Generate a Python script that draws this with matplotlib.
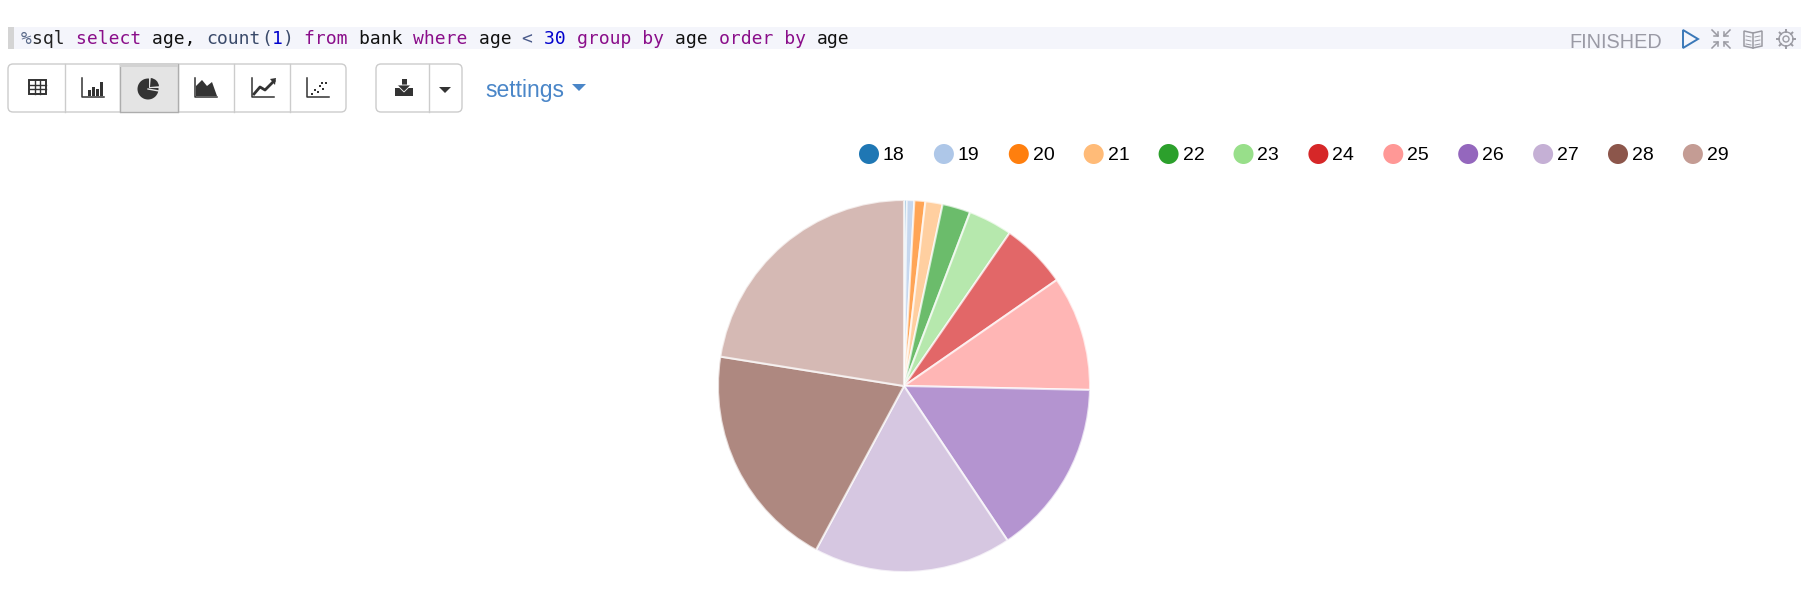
import numpy as np
import matplotlib
matplotlib.use('Agg')
import matplotlib.pyplot as plt
from matplotlib.patches import Circle, Polygon, Rectangle, FancyBboxPatch, Wedge

ages = ['18', '19', '20', '21', '22', '23', '24', '25', '26', '27', '28', '29']
counts = [12, 35, 50, 79, 129, 202, 302, 527, 805, 909, 1038, 1185]
colors = ['#1f77b4', '#aec7e8', '#ff7f0e', '#ffbb78', '#2ca02c', '#98df8a',
          '#d62728', '#ff9896', '#9467bd', '#c5b0d5', '#8c564b', '#c49c94']

code_tokens = [('%', '#5a6a8a'), ('sql ', '#222222'), ('select ', '#8a0e8a'), ('age, ', '#111111'),
               ('count', '#3a4a6a'), ('(', '#3a4a6a'), ('1', '#0000cc'), (') ', '#3a4a6a'),
               ('from ', '#8a0e8a'), ('bank ', '#111111'), ('where ', '#8a0e8a'), ('age ', '#111111'),
               ('< ', '#4a5a8a'), ('30 ', '#0000cc'), ('group by ', '#8a0e8a'), ('age ', '#111111'),
               ('order by ', '#8a0e8a'), ('age', '#111111')]

W, H = 1814, 603
fig = plt.figure(figsize=(W/100, H/100), dpi=100)

# page layer, in pixels from the top left
ui = fig.add_axes([0, 0, 1, 1])
ui.set_xlim(0, W)
ui.set_ylim(H, 0)
ui.axis('off')

# paragraph title bar
ui.add_patch(Rectangle((14, 26.5), 1787, 22, fc='#f4f5fb', ec='none'))
ui.add_patch(Rectangle((8, 26.5), 6, 22, fc='#d4d4d4', ec='none'))
char_w = 10.9
pos = 0
for tok, col in code_tokens:
    ui.text(21 + pos*char_w, 39, tok, family='DejaVu Sans Mono', fontsize=13, color=col, va='center', ha='left')
    pos += len(tok)

ui.text(1569, 42, 'FINISHED', family='Liberation Sans', fontsize=14.3, color='#9a9aa5', va='center', ha='left')
ui.add_patch(Polygon([(1683, 30), (1698, 39), (1683, 48)], closed=True, fc='none', ec='#3a78b8', lw=1.4))

# compress arrows
gray = '#9a9aa2'
for sx, sy in [(-1, -1), (1, -1), (-1, 1), (1, 1)]:
    cx, cy = 1721, 39
    ui.plot([cx + sx*3, cx + sx*9], [cy + sy*3, cy + sy*9], color=gray, lw=1.1)
    ui.plot([cx + sx*3, cx + sx*3, cx + sx*7], [cy + sy*7, cy + sy*3, cy + sy*3], color=gray, lw=1.1)

# book
ui.add_patch(Polygon([(1744, 31), (1753, 33), (1762, 31), (1762, 46), (1753, 48), (1744, 46)],
                     closed=True, fc='none', ec=gray, lw=1.1))
ui.plot([1753, 1753], [33, 48], color=gray, lw=1.1)
for dy in [0, 4, 8]:
    ui.plot([1746, 1751], [36 + dy, 37 + dy], color=gray, lw=0.7)
    ui.plot([1755, 1760], [37 + dy, 36 + dy], color=gray, lw=0.7)

# gear
ui.add_patch(Circle((1786, 39), 3, fc='none', ec=gray, lw=1))
ui.add_patch(Circle((1786, 39), 7, fc='none', ec=gray, lw=1))
for a in np.arange(0, 360, 45):
    t = np.deg2rad(a)
    ui.plot([1786 + 7*np.cos(t), 1786 + 9*np.cos(t)], [39 + 7*np.sin(t), 39 + 9*np.sin(t)],
            color=gray, lw=1.4)

# button groups
def button_group(x0, x1, dividers):
    ui.add_patch(FancyBboxPatch((x0, 64), x1 - x0, 48, boxstyle='round,pad=0,rounding_size=5',
                                fc='white', ec='#cccccc', lw=1, zorder=2))
    for d in dividers:
        ui.plot([d, d], [64, 112], color='#cccccc', lw=1, zorder=3)

button_group(8, 346, [65, 120, 178, 234, 290])
ui.add_patch(Rectangle((120, 64), 58, 48, fc='#e4e4e4', ec='#adadad', lw=1, zorder=3))
ui.add_patch(Rectangle((120, 64), 58, 3, fc='#d2d2d2', ec='none', zorder=3))
button_group(376, 462, [429])

ink = '#333333'
y0 = 88

def axes_l(cx):
    ui.plot([cx - 11, cx - 11, cx + 11], [y0 - 10, y0 + 9, y0 + 9], color=ink, lw=1.1, zorder=4)

# table
ui.add_patch(Rectangle((29, 80), 17, 14, fc='white', ec=ink, lw=1.4, zorder=4))
for x in [34.5, 40]:
    ui.plot([x, x], [80, 94], color=ink, lw=1, zorder=5)
for y in [84.5, 89]:
    ui.plot([29, 46], [y, y], color=ink, lw=1, zorder=5)

# bar icon
axes_l(93)
for x, h in zip([88, 92, 96, 100], [6, 9, 7, 14]):
    ui.add_patch(Rectangle((x, y0 + 8 - h), 3, h, fc=ink, ec='none', zorder=4))

# pie icon
ui.add_patch(Wedge((148, 89), 10.5, 0, 360, fc=ink, ec='none', zorder=4))
ui.add_patch(Wedge((149, 88), 12, -90, 0, fc='#e4e4e4', ec='none', zorder=5))
ui.add_patch(Wedge((150, 87), 9, -85, -5, fc=ink, ec='none', zorder=6))
ui.plot([148, 159], [89, 91], color='#e4e4e4', lw=1, zorder=7)

# area icon
axes_l(206)
ui.add_patch(Polygon([(196, 96), (196, 86), (202, 80), (207, 86), (212, 82), (217, 96)], closed=True,
                     fc=ink, ec='none', zorder=4))

# line icon
axes_l(263)
ui.plot([254, 260, 265, 274], [94, 87, 90, 81], color=ink, lw=2, zorder=4)
ui.add_patch(Polygon([(270, 79), (276, 78), (275, 85)], closed=True, fc=ink, ec='none', zorder=4))

# scatter icon
axes_l(318)
for x, y in [(311, 93), (314, 89), (317, 91), (319, 85), (322, 88), (325, 82), (321, 82)]:
    ui.add_patch(Rectangle((x, y), 1.6, 1.6, fc=ink, ec='none', zorder=4))

# download icon and caret
ui.add_patch(Rectangle((395, 88), 18, 8, fc=ink, ec='none', zorder=4))
ui.add_patch(Rectangle((401.5, 79), 5, 7, fc=ink, ec='none', zorder=5))
ui.add_patch(Polygon([(397, 85), (411, 85), (404, 92)], closed=True, fc=ink, ec='white', lw=0.6, zorder=6))
ui.add_patch(Polygon([(439, 87), (451, 87), (445, 93)], closed=True, fc='#333333', ec='none', zorder=4))

ui.text(485, 90, 'settings', family='Liberation Sans', fontsize=16.5, color='#4a86c8', va='center', ha='left')
ui.add_patch(Polygon([(572, 84), (586, 84), (579, 91)], closed=True, fc='#4a86c8', ec='none'))

# legend
for i, (age, col) in enumerate(zip(ages, colors)):
    x = 869 + 74.9*i
    ui.add_patch(Circle((x, 154), 10, fc=col, ec='none'))
    ui.text(x + 14, 156, age, family='Liberation Sans', fontsize=14, color='black', va='center', ha='left')

# pie
cx, cy, r = 904, 386, 186
ax = fig.add_axes([(cx - r)/W, (H - cy - r)/H, 2*r/W, 2*r/H])
ax.pie(counts, colors=colors, startangle=90, counterclock=False, radius=1,
       wedgeprops=dict(alpha=0.7, edgecolor='white', linewidth=1.5))
ax.set_xlim(-1, 1)
ax.set_ylim(-1, 1)
ax.patch.set_alpha(0)

fig.savefig('out.png', dpi=100)
plt.close()
